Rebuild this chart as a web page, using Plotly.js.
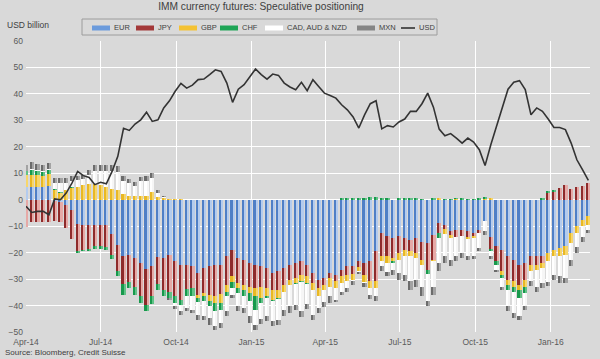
<!DOCTYPE html>
<html><head><meta charset="utf-8">
<script src="https://cdn.plot.ly/plotly-3.0.1.min.js"></script>
<style>html,body{margin:0;padding:0;background:#d9d9d9;overflow:hidden;} #chart{width:600px;height:359px;}</style>
</head><body><div id="chart"></div>
<script>
// Weekly report dates (Tuesdays)
const weeks = ("2014-04-01 2014-04-08 2014-04-15 2014-04-22 2014-04-29 2014-05-06 2014-05-13 2014-05-20 2014-05-27 " +
"2014-06-03 2014-06-10 2014-06-17 2014-06-24 2014-07-01 2014-07-08 2014-07-15 2014-07-22 2014-07-29 " +
"2014-08-05 2014-08-12 2014-08-19 2014-08-26 2014-09-02 2014-09-09 2014-09-16 2014-09-23 2014-09-30 " +
"2014-10-07 2014-10-14 2014-10-21 2014-10-28 2014-11-04 2014-11-11 2014-11-18 2014-11-25 " +
"2014-12-02 2014-12-09 2014-12-16 2014-12-23 2014-12-30 2015-01-06 2015-01-13 2015-01-20 2015-01-27 " +
"2015-02-03 2015-02-10 2015-02-17 2015-02-24 2015-03-03 2015-03-10 2015-03-17 2015-03-24 2015-03-31 " +
"2015-04-07 2015-04-14 2015-04-21 2015-04-28 2015-05-05 2015-05-12 2015-05-19 2015-05-26 " +
"2015-06-02 2015-06-09 2015-06-16 2015-06-23 2015-06-30 2015-07-07 2015-07-14 2015-07-21 2015-07-28 " +
"2015-08-04 2015-08-11 2015-08-18 2015-08-25 2015-09-01 2015-09-08 2015-09-15 2015-09-22 2015-09-29 " +
"2015-10-06 2015-10-13 2015-10-20 2015-10-27 2015-11-03 2015-11-10 2015-11-17 2015-11-24 " +
"2015-12-01 2015-12-08 2015-12-15 2015-12-22 2015-12-29 2016-01-05 2016-01-12 2016-01-19 2016-01-26 " +
"2016-02-02 2016-02-09 2016-02-16").split(" ");

const EUR = [5,5,4.8,4.8,5.2,-0.5,-1,-2,-4,-9,-9.5,-9.5,-9.5,-9.5,-9.5,-13,-17,-21.4,-21,-22,-24,-26,-25,-21.7,-22,-21,-23.3,-24.6,-24.6,-25.2,-27.7,-25.8,-25.2,-24.6,-24.6,-21.4,-19,-22,-22.7,-23.9,-24.6,-25.2,-25.8,-27.7,-27.1,-25.8,-24.6,-23.9,-23.3,-24.6,-27.7,-30.2,-29.6,-27.7,-28.4,-26.5,-25.2,-25.2,-23.3,-24,-23.3,-19.5,-12.6,-13.6,-14.5,-13.6,-14.5,-15.1,-14.5,-15.8,-16.4,-13.2,-8.8,-9.5,-12,-11.3,-11.3,-12,-12.4,-11.3,-8.2,-13.9,-17.6,-19,-21.4,-22.7,-24.6,-24,-21.4,-21.4,-21.4,-20.2,-18.9,-18.3,-17.6,-12.6,-10.1,-7.6,-6.3];
const JPY = [-10.3,-8.5,-8.5,-8.5,-8.5,-7.7,-7.5,-8.7,-11,-10.5,-9.5,-9,-8,-8,-8.5,-8,-10,-10.6,-10,-10.8,-12.5,-13.7,-11.5,-10.3,-12,-14,-13.2,-13.2,-9.2,-8.2,-8.2,-9.5,-10.7,-11.9,-10.9,-10.7,-10,-9.5,-9.4,-8.9,-8.8,-7.6,-7.6,-6.3,-6.9,-6.3,-5.6,-5.7,-5.1,-4.4,-3.8,-3.2,-2.5,-1.9,-2.5,-2.5,-3.2,-2.8,-2.3,-4.5,-7.6,-11.4,-8.8,-7.8,-7.6,-6.6,-4.4,-4.4,-5.7,-6.9,-10.1,-9.5,-3.8,-1.6,-1.2,-2.6,-2.3,-2.1,-1.2,-1.3,0,-4.6,-5.7,-8,-8.8,-8.2,-7.5,-6.2,-3.2,-3.2,-2.5,2.5,3,4.5,5.7,4,5,5.3,6.3];
const GBP = [4.5,4.5,4.5,4.3,4.5,3.5,2.5,3.5,4.5,5,5.5,5.8,5.8,5.5,4.8,4,3.5,2,1.5,1.5,1.5,1.5,2.8,1,0.5,0.3,0.2,0.2,0,0,-1.1,-1.2,-2.5,-2.5,-3.5,-2.6,-2,-1.9,-1.9,-2.5,-3.1,-4.4,-3.1,-3.8,-3.2,-2.6,-1.9,-1.9,-2.5,-2.5,-2.5,-3.1,-1.9,-3.2,-2.5,-2.5,-2.5,-2.2,-1.5,-2.6,-2.5,-2.5,-1.9,-2.5,-1.2,-2.5,-2.5,-1.9,-1.9,-1.9,0,-0.6,0.5,-1.8,-1.3,0.3,0,-0.8,-0.9,0,0.3,0.5,0,-1.4,-1.9,-1.9,-1.9,-2.6,-2.5,-1.9,-1.9,-3.1,-2.5,-3.1,-3.2,-3.8,-2.5,-2.5,-3.2];
const CHF = [1.3,1.8,1.6,1.5,1.7,0.7,0.3,0.2,0.2,-0.8,-0.3,-0.8,-1,-1.2,-1,-1.5,-2,-4,-2.4,-3.2,-2.5,-2.5,-2.8,-2,-2.5,-2,-2.5,-1.9,-2.7,-2.9,-1.8,-1.9,-1.9,-3.2,-2.6,-1.8,-2.5,-1.9,-2.5,-3.1,-5.1,-1.8,-0.5,-0.4,-0.3,-0.3,-0.3,-0.3,-0.3,-0.3,0,0,0,0,0,0.5,0.7,0.8,0.8,0.7,1,1,0.8,0.8,-0.6,0.7,0.5,0.7,0.5,0.3,-1.5,0.8,-1.9,0.3,0.3,0.5,0.5,0.3,0.3,0.5,0.8,-1,-1.3,-1.2,-1.9,-1.9,-3.2,-2.5,0,0,0.8,0.7,0.5,0,0,0,0,0,0];
const CAD_AUD_NZD = [0,0.3,0.2,0.2,0.2,2.3,3.7,2.8,2.3,2.5,2.3,3.7,5.2,5.5,6.2,7,7,5,4.8,3.7,5.5,5.7,5.5,1.5,0.5,-0.3,-1,-2.5,-4.5,-5.3,-4.7,-5.7,-4.4,-5.7,-5,-5.7,-2.5,-4.7,-4.5,-5.7,-5.7,-6,-7,-7.8,-7.9,-6.6,-7.9,-7.9,-10.8,-7.6,-9.5,-4.5,-4.8,-3.7,-4.4,-3.2,-2.5,-0.7,-0.3,-0.5,-2.5,-3.1,-1.9,-3.6,-2.6,-5,-7,-9.5,-8.1,-8.2,-10.4,-9.5,-9.5,-8.5,-8.2,-7.5,-6.6,-6.5,-6.9,-5.7,-3.8,-1.9,-1.9,-3.2,-6.3,-8.1,-6.9,-5,-3.8,-6.3,-5.7,-7.7,-7,-7.5,-8.8,-6.3,-5.4,-3.8,-1.8];
const MXN = [2.2,2.6,2.5,2.4,2.3,1.7,1.7,1.7,1.8,1.5,1.5,1.8,2.2,2.2,2.2,2.2,2.1,1.8,1.5,1.5,1.6,1.6,1.8,1,0.5,-0.5,-1.3,-1.3,-1.2,-1.2,-1.9,-1.3,-2.6,-1.3,-1.9,-1.9,-1.2,-2,-2,-2.5,-2.1,-2,-1.7,-1.6,-1.8,-2.5,-2.4,-1.9,-2.3,-1.8,-1.9,-1.8,-1.7,-2.4,-0.9,-1.2,-1.3,-1.2,-0.6,-1.2,-1.6,-1.9,-1.9,-1.5,-1.9,-2.8,-2.5,-3.1,-2.6,-3.7,-1.9,-3.1,-3.1,-2.5,-2.5,-1.9,-1.8,-1.5,-1,-1.2,-1.5,-1,-1,-1.2,-1.9,-1.9,-1.3,-1.3,-1.6,-1.9,-1.9,-1.5,-1.8,-2.6,-1.9,-2.5,-2,-1.9,-1.3];
const USD = [-2.5,-4.8,-4.4,-4.4,-5.7,0.3,0,2.5,6.3,10.7,9.1,8.4,5.7,6.6,6,10.7,16.4,27,26.2,28.6,30.2,33.1,29.6,30.2,34.7,37.4,41,44,42.2,43.3,45.4,45.6,47.3,49.1,48.5,44.1,36.8,41.8,43.5,46.6,49.4,47.3,45.6,47.5,47,44.1,42.6,41.6,44.4,41.2,45.4,42.8,40.3,39.4,38.4,35.9,34,31.3,27.1,32.1,36.3,37.4,26.8,28,27.5,29.4,30.5,33.4,33.4,36.3,40.3,35,26.7,24.2,25,23.3,21.4,23.3,21.8,18.9,12.9,20.8,27.7,34,41.8,44.4,45,41.6,32.1,34.7,33.4,30.5,27.3,27.3,26.5,21.4,15.1,11.3,7.3];

const seriesNames = ["EUR", "JPY", "GBP", "CHF", "CAD, AUD & NZD", "MXN"];
const seriesValues = [EUR, JPY, GBP, CHF, CAD_AUD_NZD, MXN];
const darkColors  = ["#4f7fc6", "#8e2b2b", "#e9b824", "#17994c", "#ffffff", "#6b6b6b"];
const lightColors = ["#b3cbee", "#e6a9a6", "#f7d66a", "#62c287", "#f6f6f6", "#a3a3a3"];
const swatchColors = ["#6b9bdc", "#a33838", "#f4c233", "#1fa556", "#ffffff", "#858585"];
const lineName = "USD";

const DAY = 86400000;
const halfW = 2.55 * DAY;
const traces = [];
seriesValues.forEach((vals, i) => {
  traces.push({type: "bar", name: seriesNames[i], x: weeks, y: vals, xaxis: "x", yaxis: "y",
    width: halfW, offset: -halfW, marker: {color: darkColors[i], line: {width: 0}}, showlegend: false});
  traces.push({type: "bar", name: seriesNames[i], x: weeks, y: vals, xaxis: "x", yaxis: "y2",
    width: halfW, offset: 0, marker: {color: lightColors[i], line: {width: 0}}, showlegend: false});
});
traces.push({type: "scatter", mode: "lines", name: lineName, x: weeks, y: USD, xaxis: "x", yaxis: "y2",
  line: {color: "#333333", width: 1.6}, showlegend: false});

// plot-area pixel helpers for decorations (legend / notes)
const L = 26, R = 590, T = 41, B = 332;
const px = v => (v - L) / (R - L);
const py = v => (B - v) / (B - T);

const font = "Liberation Sans, Arial, sans-serif";
const shapes = [{type: "rect", xref: "paper", yref: "paper", x0: px(82), x1: px(437), y0: py(35), y1: py(19),
  line: {color: "#9c9c9c", width: 1}, fillcolor: "rgba(0,0,0,0)"}];
const annotations = [
  {text: "USD billion", xref: "paper", yref: "paper", x: px(5), y: py(25), xanchor: "left", yanchor: "middle",
   showarrow: false, font: {family: font, size: 8.5, color: "#404040"}},
  {text: "Source: Bloomberg, Credit Suisse", xref: "paper", yref: "paper", x: px(3), y: py(352), xanchor: "left", yanchor: "middle",
   showarrow: false, font: {family: font, size: 8, color: "#404040"}}
];
const legendX = [92, 136, 179, 220, 265, 357];
const swW = 18;
seriesNames.forEach((n, i) => {
  shapes.push({type: "rect", xref: "paper", yref: "paper", x0: px(legendX[i]), x1: px(legendX[i] + swW),
    y0: py(30.5), y1: py(25.5), line: {width: 0}, fillcolor: swatchColors[i]});
  annotations.push({text: n.replace("&", "&amp;"), xref: "paper", yref: "paper", x: px(legendX[i] + swW + 1.5), y: py(28),
    xanchor: "left", yanchor: "middle", showarrow: false, font: {family: font, size: 7.5, color: "#404040"}});
});
shapes.push({type: "line", xref: "paper", yref: "paper", x0: px(401), x1: px(415), y0: py(28), y1: py(28),
  line: {color: "#333333", width: 1.6}});
annotations.push({text: lineName, xref: "paper", yref: "paper", x: px(416.5), y: py(28),
  xanchor: "left", yanchor: "middle", showarrow: false, font: {family: font, size: 7.5, color: "#404040"}});

const tickFont = {family: font, size: 8.5, color: "#595959"};
const layout = {
  width: 600, height: 359,
  paper_bgcolor: "#d9d9d9", plot_bgcolor: "#d9d9d9",
  margin: {l: L, r: 600 - R, t: T, b: 359 - B, pad: 0},
  barmode: "relative", bargap: 0,
  showlegend: false,
  title: {text: "IMM currency futures: Speculative positioning", xref: "paper", x: px(261), xanchor: "center",
    yref: "container", y: 1 - 6.5 / 359, yanchor: "middle", font: {family: font, size: 10.2, color: "#404040"}},
  xaxis: {type: "date", range: ["2014-04-01", "2016-02-18"], tick0: "2014-04-01", dtick: "M3", tickformat: "%b-%y",
    showgrid: true, gridcolor: "#ffffff", gridwidth: 1, zeroline: false, showline: false, ticks: "",
    tickfont: tickFont, ticklabelstandoff: 3},
  yaxis: {range: [-50, 60], dtick: 10, showgrid: true, gridcolor: "#ffffff", gridwidth: 1, zeroline: false,
    showline: false, ticks: "", tickfont: tickFont, ticklabelstandoff: 2},
  yaxis2: {range: [-50, 60], overlaying: "y", visible: false, showgrid: false, zeroline: false},
  shapes: shapes, annotations: annotations
};
Plotly.newPlot("chart", traces, layout, {staticPlot: true, displayModeBar: false});
</script>
</body></html>
